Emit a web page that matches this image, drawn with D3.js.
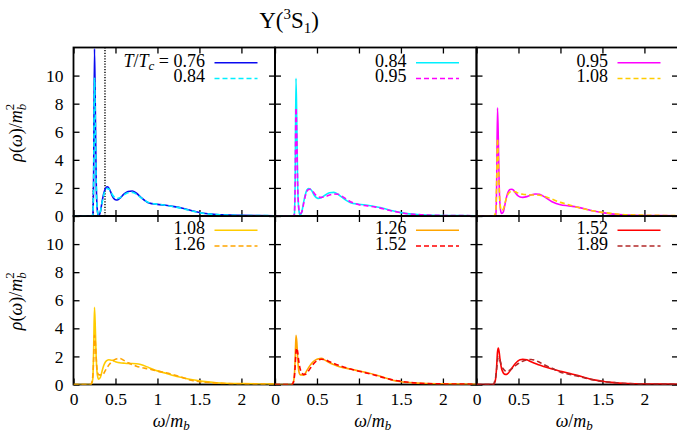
<!DOCTYPE html>
<html><head><meta charset="utf-8">
<script src="https://cdn.jsdelivr.net/npm/d3@7"></script>
<style>
body{margin:0;background:#fff;}
svg text{font-family:"Liberation Serif","Times New Roman","DejaVu Serif",serif;fill:#000;}
</style></head>
<body><svg id="c" width="677" height="434" font-family="Liberation Serif"></svg>
<script>
// ---- data ----
const omega = [0,0.10,0.20,0.215,0.23, 0.24,0.25,0.26,0.27,0.28, 0.29,0.30,0.32,0.34,0.36, 0.38,0.40,0.42,0.44,0.46, 0.48,0.50,0.52,0.55,0.60, 0.65,0.70,0.75,0.80,0.90, 1.00,1.10,1.20,1.30,1.40, 1.50,1.60,1.70,1.80,2.00, 2.20,2.40];
const rho076 = [0,0,0,0,0.1, 3.0,11.9,7.5,2.6,0.7, 0.15,0.02,0.3,1.0,1.6, 1.95,2.08,2.0,1.75,1.45, 1.25,1.16,1.14,1.25,1.55, 1.75,1.78,1.62,1.35,0.93, 0.83,0.76,0.67,0.55,0.39, 0.25,0.16,0.11,0.08,0.05, 0.03,0.02];
const rho084 = [0,0,0,0,0.1, 2.5,9.8,6.5,2.3,0.7, 0.2,0.08,0.3,0.95,1.5, 1.85,1.95,1.93,1.78,1.55, 1.38,1.28,1.25,1.3,1.5, 1.65,1.68,1.55,1.32,0.95, 0.84,0.76,0.66,0.53,0.37, 0.24,0.15,0.10,0.07,0.04, 0.03,0.02];
const rho095 = [0,0,0,0,0.1, 2.2,7.7,5.5,2.2,0.8, 0.3,0.18,0.3,0.85,1.4, 1.75,1.88,1.9,1.85,1.68, 1.52,1.42,1.36,1.33,1.38, 1.5,1.57,1.55,1.4,1.02, 0.8,0.72,0.63,0.5,0.35, 0.24,0.15,0.10,0.07,0.04, 0.03,0.02];
const rho108 = [0,0,0,0.05,0.4, 2.5,5.5,4.0,2.0,0.9, 0.5,0.38,0.5,0.95,1.35, 1.6,1.72,1.76,1.75,1.72, 1.68,1.62,1.58,1.55,1.52, 1.5,1.5,1.48,1.42,1.2, 0.97,0.8,0.62,0.48,0.35, 0.26,0.19,0.13,0.09,0.06, 0.04,0.03];
const rho126 = [0,0,0,0.1,0.6, 1.8,3.5,3.0,1.9,1.1, 0.8,0.7,0.68,0.66,0.78, 1.0,1.2,1.38,1.52,1.64, 1.73,1.8,1.84,1.86,1.72, 1.55,1.42,1.3,1.22,1.1, 0.96,0.83,0.68,0.5,0.3, 0.2,0.14,0.1,0.07,0.05, 0.03,0.02];
const rho152 = [0,0,0,0.1,0.5, 1.3,2.3,2.6,2.3,1.8, 1.4,1.1,0.82,0.72,0.72, 0.82,0.98,1.15,1.32,1.48, 1.6,1.7,1.76,1.8,1.76, 1.62,1.5,1.38,1.28,1.1, 0.95,0.8,0.65,0.48,0.33, 0.23,0.15,0.10,0.07,0.04, 0.03,0.02];
const rho189 = [0,0,0,0.2,0.6, 1.1,1.7,1.95,1.9,1.7, 1.5,1.32,1.1,0.98,0.95, 0.97,1.03,1.12,1.22,1.32, 1.42,1.5,1.58,1.66,1.75, 1.78,1.72,1.58,1.42,1.15, 0.88,0.74,0.6,0.45,0.32, 0.22,0.15,0.10,0.07,0.04, 0.03,0.02];
const temps = ["0.76","0.84","0.95","1.08","1.26","1.52","1.89"];
const rhos = [rho076,rho084,rho095,rho108,rho126,rho152,rho189];
const colors = ["#0a0af0","#00f0ff","#ff00ff","#ffcc00","#ffa500","#ff0000","#b22828"];
const panelSeries = [[0,1],[1,2],[2,3],[3,4],[4,5],[5,6]];
const xTicks = [0,0.5,1,1.5,2];
const yTicks = [0,2,4,6,8,10];
const refLines = [{omega:0.375, top:12},{omega:0.236, top:2.1}];

// ---- layout ----
const FONT = "'Liberation Serif','Times New Roman','DejaVu Serif',serif";
const svg = d3.select("#c");
const L = 73.5, W = 201.5, tops = [47.5, 216], H = 168.5;
const x = d3.scaleLinear().domain([0,2.4]).range([0,W]);
const y = d3.scaleLinear().domain([0,12]).range([H,0]);
const line = d3.line().x(d=>x(d[0])).y(d=>y(d[1])).curve(d3.curveMonotoneX);

// title
const title = svg.append("text").attr("x",289).attr("y",28).attr("text-anchor","middle").style("font-size","23px").style("font-family",FONT);
title.append("tspan").text("Υ(");
title.append("tspan").attr("dy",-9).style("font-size","15px").text("3");
title.append("tspan").attr("dy",9).text("S");
title.append("tspan").attr("dy",5).style("font-size","15px").text("1");
title.append("tspan").attr("dy",-5).text(")");

svg.append("defs").append("clipPath").attr("id","clip").append("rect").attr("width",W).attr("height",H);

panelSeries.forEach((ser,p)=>{
  const col = p%3, row = Math.floor(p/3);
  const g = svg.append("g").attr("transform",`translate(${L+col*W},${tops[row]})`);
  const tickStyle = a => a.selectAll("line").attr("stroke","#000").attr("stroke-width",1.3);
  const ax = g.append("g").attr("transform",`translate(0,${H})`)
    .call(d3.axisBottom(x).tickValues(xTicks).tickSize(-6).tickPadding(8).tickFormat(row===1?d3.format(""):()=>""));
  const at = g.append("g").call(d3.axisTop(x).tickValues(xTicks).tickSize(-6).tickFormat(()=>""));
  const ay = g.append("g").call(d3.axisLeft(y).tickValues(yTicks).tickSize(-6).tickPadding(10).tickFormat(col===0?d3.format(""):()=>""));
  const ar = g.append("g").attr("transform",`translate(${W},0)`).call(d3.axisRight(y).tickValues(yTicks).tickSize(-6).tickFormat(()=>""));
  [ax,at,ay,ar].forEach(a=>{a.select(".domain").remove(); tickStyle(a);
    a.attr("font-family",null).attr("font-size",null);
    a.selectAll("text").style("font-family",FONT).style("font-size","17.5px");});
  g.append("rect").attr("width",W).attr("height",H).attr("fill","none").attr("stroke","#000").attr("stroke-width",1.8);
  if(p===0){
    refLines.forEach(r=>{
      g.append("line").attr("x1",x(r.omega)).attr("x2",x(r.omega)).attr("y1",y(0)).attr("y2",y(r.top))
        .attr("stroke","#000").attr("stroke-width",1.4).attr("stroke-dasharray","1.2,1.5");
    });
  }
  const cg = g.append("g").attr("clip-path","url(#clip)");
  ser.forEach((si,k)=>{
    const pts = omega.map((w,i)=>[w,rhos[si][i]]);
    cg.append("path").attr("d",line(pts)).attr("fill","none").attr("stroke",colors[si])
      .attr("stroke-width",1.6).attr("stroke-dasharray",k===1?"5,3":null);
  });
  ser.forEach((si,k)=>{
    const by = (row===0?19:18) + k*15.8;
    const t = g.append("text").attr("x",131.5).attr("y",by).attr("text-anchor","end").style("font-size","18px").style("font-family",FONT);
    if(p===0 && k===0){
      t.append("tspan").style("font-style","italic").text("T");
      t.append("tspan").text("/");
      t.append("tspan").style("font-style","italic").text("T");
      t.append("tspan").attr("dy",3).style("font-size","13px").style("font-style","italic").text("c");
      t.append("tspan").attr("dy",-3).text(" = "+temps[si]);
    } else t.text(temps[si]);
    g.append("line").attr("x1",141).attr("x2",184).attr("y1",by-3.8).attr("y2",by-3.8)
      .attr("stroke",colors[si]).attr("stroke-width",1.6).attr("stroke-dasharray",k===1?"5,3":null);
  });
  if(col===0){
    const yl = g.append("text").attr("transform",`translate(${22-L},${H/2+1}) rotate(-90)`).attr("text-anchor","middle").style("font-size","18px").style("font-family",FONT);
    yl.append("tspan").style("font-style","italic").text("ρ");
    yl.append("tspan").text("(");
    yl.append("tspan").style("font-style","italic").text("ω");
    yl.append("tspan").text(")/");
    yl.append("tspan").style("font-style","italic").text("m");
    yl.append("tspan").attr("dy",4).style("font-size","13px").style("font-style","italic").text("b");
    yl.append("tspan").attr("dx",-6.5).attr("dy",-12).style("font-size","13px").text("2");
  }
  if(row===1){
    const xl = g.append("text").attr("x",W/2-3).attr("y",211).attr("text-anchor","middle").style("font-size","18px").style("font-family",FONT);
    xl.append("tspan").style("font-style","italic").text("ω");
    xl.append("tspan").text("/");
    xl.append("tspan").style("font-style","italic").text("m");
    xl.append("tspan").attr("dy",2.5).style("font-size","13px").style("font-style","italic").text("b");
  }
});
</script></body></html>
